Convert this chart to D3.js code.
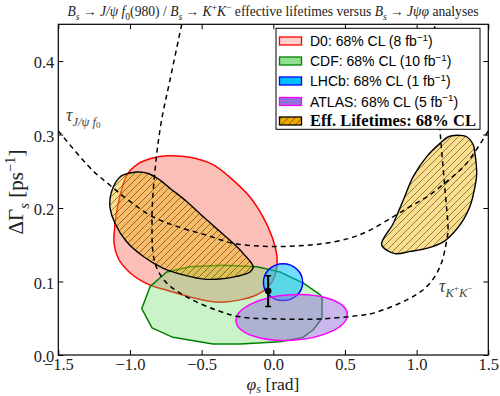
<!DOCTYPE html>
<html><head><meta charset="utf-8">
<script src="https://cdn.jsdelivr.net/npm/d3@7"></script>
<style>body{margin:0;background:#fff}svg{display:block}</style>
</head><body>
<svg id="c" width="500" height="396"></svg>
<script>
// ---------- data ----------
const xTicks = [-1.5, -1.0, -0.5, 0.0, 0.5, 1.0, 1.5];
const yTicks = [0.0, 0.1, 0.2, 0.3, 0.4];
// D0 68% CL contour [phi_s, dGamma_s]
const d0Contour = [[-1.111,0.152],[-1.097,0.190],[-1.070,0.216],[-1.021,0.245],[-0.944,0.260],[-0.860,0.267],[-0.742,0.271],[-0.581,0.269],[-0.421,0.259],[-0.281,0.238],[-0.163,0.215],[-0.072,0.188],[-0.009,0.161],[0.026,0.133],[0.019,0.113],[-0.002,0.102],[-0.044,0.091],[-0.114,0.082],[-0.232,0.075],[-0.393,0.072],[-0.581,0.079],[-0.742,0.088],[-0.860,0.095],[-1.000,0.112],[-1.083,0.132]];
// CDF 68% CL contour
const cdfContour = [[-0.918,0.063],[-0.860,0.093],[-0.744,0.113],[-0.581,0.120],[-0.351,0.122],[-0.114,0.120],[0.047,0.113],[0.207,0.098],[0.326,0.082],[0.340,0.079],[0.340,0.050],[0.277,0.034],[0.207,0.024],[0.047,0.018],[-0.232,0.015],[-0.421,0.015],[-0.700,0.024],[-0.846,0.037]];
// LHCb and ATLAS 68% CL ellipses: centre, half-widths, tilt (deg)
const lhcbEllipse = {phi:0.068, dg:0.099, rphi:0.137, rdg:0.025, tilt:0};
const atlasEllipse = {phi:0.128, dg:0.051, rphi:0.389, rdg:0.031, tilt:-3.5};
// Effective lifetime 68% CL regions
const effLeft = [[-1.081,0.240],[-1.047,0.245],[-0.953,0.249],[-0.872,0.247],[-0.790,0.238],[-0.721,0.227],[-0.604,0.209],[-0.488,0.188],[-0.372,0.168],[-0.279,0.152],[-0.209,0.138],[-0.140,0.120],[-0.163,0.113],[-0.255,0.107],[-0.395,0.103],[-0.511,0.104],[-0.628,0.109],[-0.767,0.118],[-0.907,0.134],[-1.023,0.154],[-1.104,0.179],[-1.139,0.200],[-1.139,0.213],[-1.116,0.229]];
const effRight = [[1.221,0.297],[1.280,0.299],[1.349,0.297],[1.395,0.286],[1.407,0.274],[1.419,0.247],[1.407,0.229],[1.372,0.202],[1.326,0.184],[1.256,0.166],[1.186,0.154],[1.070,0.145],[0.954,0.141],[0.849,0.138],[0.756,0.150],[0.837,0.179],[0.907,0.211],[0.977,0.243],[1.070,0.270],[1.163,0.288]];
// effective lifetime bands (dashed)
const tauKK = [[-0.639,0.450],[-0.721,0.374],[-0.779,0.320],[-0.818,0.265],[-0.846,0.188],[-0.825,0.125],[-0.744,0.098],[-0.595,0.078],[-0.395,0.061],[-0.232,0.052],[0.047,0.049],[0.326,0.049],[0.605,0.054],[0.698,0.057],[0.931,0.075],[1.070,0.093],[1.163,0.120],[1.210,0.156],[1.219,0.170],[1.198,0.224],[1.163,0.306],[1.140,0.380],[1.125,0.450]];
const tauJpsiF0 = [[-1.5,0.305],[-1.265,0.252],[-1.139,0.231],[-1.0,0.209],[-0.839,0.188],[-0.674,0.175],[-0.465,0.163],[-0.281,0.152],[-0.070,0.148],[0.117,0.148],[0.326,0.151],[0.535,0.159],[0.675,0.170],[0.835,0.188],[0.954,0.202],[1.070,0.215],[1.210,0.236],[1.349,0.261],[1.5,0.305]];
// SM prediction
const smPoint = {phi:-0.036, dg:0.087, err:0.021};
const legendLabels = ["D0: 68% CL (8 fb", "CDF: 68% CL (10 fb", "LHCb: 68% CL (1 fb", "ATLAS: 68% CL (5 fb"];

// ---------- layout ----------
const svg = d3.select('#c');
const x = d3.scaleLinear().domain([-1.5,1.5]).range([58.3,488.3]);
const y = d3.scaleLinear().domain([0,0.45]).range([355,24.3]);
const serif = "'Liberation Serif','Times New Roman',serif";
const sans = "'Liberation Sans',Arial,sans-serif";

const defs = svg.append('defs');
defs.append('clipPath').attr('id','clip').append('rect')
  .attr('x',x(-1.5)).attr('y',y(0.45)).attr('width',x(1.5)-x(-1.5)).attr('height',y(0)-y(0.45));
const pat = defs.append('pattern').attr('id','hatch').attr('patternUnits','userSpaceOnUse')
  .attr('width',7).attr('height',7);
pat.append('path').attr('d','M-1,1 l2,-2 M0,7 l7,-7 M6,8 l2,-2')
  .attr('stroke','#222').attr('stroke-width',0.6).attr('opacity',0.85);

function rich(sel, segs, size, subShift) {
  let cur = 0;
  const sb = subShift === undefined ? 0.28 : subShift;
  segs.forEach(s => {
    const target = s.sub ? size*sb : s.sup ? -size*0.38 : 0;
    sel.append('tspan').attr('dy', target - cur)
      .attr('font-size', (s.sub||s.sup) ? size*0.7 : size)
      .attr('font-style', s.i ? 'italic' : 'normal')
      .attr('font-weight', s.b ? 'bold' : 'normal')
      .text(s.t);
    cur = target;
  });
}

const g = svg.append('g').attr('clip-path','url(#clip)');
const closedSmooth = d3.line().x(d=>x(d[0])).y(d=>y(d[1])).curve(d3.curveCatmullRomClosed.alpha(0.5));
const closedLin = d3.line().x(d=>x(d[0])).y(d=>y(d[1])).curve(d3.curveLinearClosed);
const openSmooth = d3.line().x(d=>x(d[0])).y(d=>y(d[1])).curve(d3.curveCatmullRom.alpha(0.5));

// D0
g.append('path').attr('d',closedSmooth(d0Contour)).attr('fill','#fa8072').attr('fill-opacity',0.5)
  .attr('stroke','#ff0000').attr('stroke-width',1.5);
// CDF
g.append('path').attr('d',closedLin(cdfContour)).attr('fill','#66dd66').attr('fill-opacity',0.35)
  .attr('stroke','#008000').attr('stroke-width',1.5).attr('stroke-linejoin','round');
// ellipses
function ell(e, fill, op, stroke) {
  g.append('ellipse').attr('cx',x(e.phi)).attr('cy',y(e.dg))
    .attr('rx',x(e.phi+e.rphi)-x(e.phi)).attr('ry',y(e.dg)-y(e.dg+e.rdg))
    .attr('transform',`rotate(${e.tilt},${x(e.phi)},${y(e.dg)})`)
    .attr('fill',fill).attr('fill-opacity',op).attr('stroke',stroke).attr('stroke-width',1.5);
}
ell(lhcbEllipse,'#00bfff',0.55,'#0000ff');
ell(atlasEllipse,'#9370db',0.5,'#ff00ff');
// effective lifetime regions
[effLeft, effRight].forEach(reg => {
  g.append('path').attr('d',closedSmooth(reg)).attr('fill','#f7b500').attr('fill-opacity',0.45);
  g.append('path').attr('d',closedSmooth(reg)).attr('fill','url(#hatch)');
  g.append('path').attr('d',closedSmooth(reg)).attr('fill','none').attr('stroke','#000').attr('stroke-width',1.4);
});
// dashed bands
[tauKK, tauJpsiF0].forEach(c => {
  g.append('path').attr('d',openSmooth(c)).attr('fill','none').attr('stroke','#000')
    .attr('stroke-width',1.5).attr('stroke-dasharray','5,4');
});
// SM point
g.append('line').attr('x1',x(smPoint.phi)).attr('x2',x(smPoint.phi))
  .attr('y1',y(smPoint.dg-smPoint.err)).attr('y2',y(smPoint.dg+smPoint.err)).attr('stroke','#000').attr('stroke-width',2);
[smPoint.dg-smPoint.err, smPoint.dg+smPoint.err].forEach(v => {
  g.append('line').attr('x1',x(smPoint.phi)-3).attr('x2',x(smPoint.phi)+3).attr('y1',y(v)).attr('y2',y(v))
    .attr('stroke','#000').attr('stroke-width',1.5);
});
g.append('circle').attr('cx',x(smPoint.phi)).attr('cy',y(smPoint.dg)).attr('r',3.3).attr('fill','#000');

// curve labels
const t1 = svg.append('text').attr('x',66).attr('y',121).attr('font-family',serif).attr('fill','#444');
rich(t1,[{t:'τ',i:1},{t:'J/ψ f',i:1,sub:1}],18);
t1.append('tspan').attr('font-size',9).attr('font-style','normal').attr('dy',2).text('0');
const t2 = svg.append('text').attr('x',439).attr('y',292).attr('font-family',serif).attr('fill','#444');
rich(t2,[{t:'τ',i:1},{t:'K',i:1,sub:1}],18);
t2.append('tspan').attr('font-size',9).attr('dy',-6).text('+');
t2.append('tspan').attr('font-size',12.6).attr('font-style','italic').attr('dy',6).text('K');
t2.append('tspan').attr('font-size',9).attr('dy',-6).text('−');

// frame & ticks
svg.append('rect').attr('x',x(-1.5)).attr('y',y(0.45)).attr('width',x(1.5)-x(-1.5)).attr('height',y(0)-y(0.45))
  .attr('fill','none').attr('stroke','#000').attr('stroke-width',1.2);
const axB = svg.append('g').attr('transform',`translate(0,${y(0)})`)
  .call(d3.axisBottom(x).tickValues(xTicks).tickSizeInner(-5).tickSizeOuter(0).tickPadding(3).tickFormat(d=>d3.format('.1f')(d).replace('-','−')));
const axT = svg.append('g').attr('transform',`translate(0,${y(0.45)})`)
  .call(d3.axisTop(x).tickValues(xTicks).tickSizeInner(-5).tickSizeOuter(0).tickFormat(''));
const axL = svg.append('g').attr('transform',`translate(${x(-1.5)},0)`)
  .call(d3.axisLeft(y).tickValues(yTicks).tickSizeInner(-5).tickSizeOuter(0).tickPadding(4).tickFormat(d3.format('.1f')));
const axR = svg.append('g').attr('transform',`translate(${x(1.5)},0)`)
  .call(d3.axisRight(y).tickValues(yTicks).tickSizeInner(-5).tickSizeOuter(0).tickFormat(''));
[axB,axT,axL,axR].forEach(a => {
  a.select('.domain').remove();
  a.selectAll('line').attr('stroke','#000').attr('stroke-width',1);
  a.selectAll('text').attr('font-family',serif).attr('font-size',16.5).attr('fill','#222');
});
axL.selectAll('text').attr('dy','0.4em');

// axis labels
const xl = svg.append('text').attr('x',273).attr('y',390).attr('text-anchor','middle').attr('font-family',serif).attr('fill','#222');
rich(xl,[{t:'φ',i:1},{t:'s',i:1,sub:1},{t:' [rad]'}],17.5,0.15);
const yl = svg.append('text').attr('transform','translate(23,192) rotate(-90)').attr('text-anchor','middle').attr('font-family',serif).attr('fill','#222');
rich(yl,[{t:'ΔΓ'},{t:'s',i:1,sub:1},{t:' [ps'},{t:'−1',sup:1},{t:']'}],21);

// title
const tt = svg.append('text').attr('x',273).attr('y',16).attr('text-anchor','middle').attr('font-family',serif).attr('fill','#222');
rich(tt,[{t:'B',i:1},{t:'s',i:1,sub:1},{t:' → '},{t:'J/ψ f',i:1},{t:'0',sub:1},{t:'(980) / '},{t:'B',i:1},{t:'s',i:1,sub:1},{t:' → '},{t:'K',i:1},{t:'+',sup:1},{t:'K',i:1},{t:'−',sup:1},{t:' effective lifetimes versus '},{t:'B',i:1},{t:'s',i:1,sub:1},{t:' → '},{t:'Jψφ',i:1},{t:' analyses'}],13.6);

// legend
const lg = svg.append('g');
lg.append('rect').attr('x',276).attr('y',28.3).attr('width',204).attr('height',101).attr('fill','#fff').attr('stroke','#000').attr('stroke-width',1);
const legFill = ['#ffd0d0','#90e090','#00bfff','#9370db'];
const legStroke = ['#ff0000','#008000','#0000ff','#ff00ff'];
const rowY = [41, 61, 81, 101.5, 121];
legendLabels.forEach((lab,i) => {
  lg.append('rect').attr('x',279.5).attr('y',rowY[i]-4).attr('width',22).attr('height',8)
    .attr('fill',legFill[i]).attr('stroke',legStroke[i]).attr('stroke-width',1.3);
  const t = lg.append('text').attr('x',310).attr('y',rowY[i]+5).attr('font-family',sans).attr('fill','#000');
  rich(t,[{t:lab},{t:'−1',sup:1},{t:')'}],14);
});
lg.append('rect').attr('x',279.5).attr('y',rowY[4]-4).attr('width',22).attr('height',8).attr('fill','#f0a800');
lg.append('rect').attr('x',279.5).attr('y',rowY[4]-4).attr('width',22).attr('height',8).attr('fill','url(#hatch)')
  .attr('stroke','#000').attr('stroke-width',1.3);
lg.append('text').attr('x',310).attr('y',rowY[4]+5).attr('font-family',serif).attr('font-weight','bold')
  .attr('font-size',16.5).attr('fill','#000').text('Eff. Lifetimes: 68% CL');
</script>
</body></html>
